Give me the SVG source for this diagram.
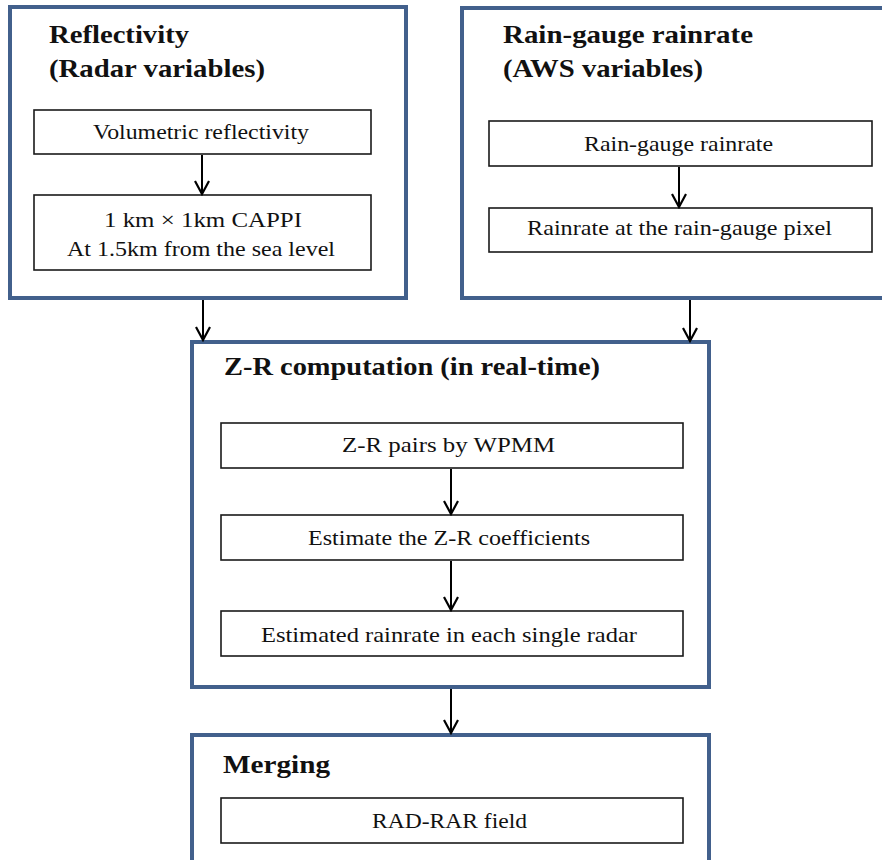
<svg xmlns="http://www.w3.org/2000/svg" width="882" height="860" viewBox="0 0 882 860">
<style>
.outer{fill:#fff;stroke:#42608c;stroke-width:4}
.inner{fill:#fff;stroke:#1a1a1a;stroke-width:1.6}
.title{font-family:"Liberation Serif","Times New Roman",serif;font-weight:bold;font-size:25px;fill:#111}
.lbl{font-family:"Liberation Serif","Times New Roman",serif;font-size:22px;fill:#111}
.conn{stroke:#000;stroke-width:2;fill:none}
</style>
<defs>
<marker id="ah" viewBox="0 0 16 16" refX="14" refY="8" markerWidth="16" markerHeight="16" markerUnits="userSpaceOnUse" orient="auto">
<path d="M1,1 L14,8 L1,15" fill="none" stroke="#000" stroke-width="2.2"/>
</marker>
</defs>
<rect width="882" height="860" fill="#fff"/>
<g id="reflectivity">
<rect class="outer" x="10" y="7" width="396" height="291"/>
<text class="title" x="49" y="43" textLength="140" lengthAdjust="spacingAndGlyphs">Reflectivity</text>
<text class="title" x="49" y="77" textLength="216" lengthAdjust="spacingAndGlyphs">(Radar variables)</text>
</g>
<g id="volumetric">
<rect class="inner" x="34" y="110" width="337" height="44"/>
<text class="lbl" x="93" y="139" textLength="216" lengthAdjust="spacingAndGlyphs">Volumetric  reflectivity</text>
</g>
<g id="cappi">
<rect class="inner" x="34" y="195" width="337" height="75"/>
<text class="lbl" x="104" y="227" textLength="198" lengthAdjust="spacingAndGlyphs">1 km × 1km  CAPPI</text>
<text class="lbl" x="67" y="256" textLength="268" lengthAdjust="spacingAndGlyphs">At 1.5km from  the  sea level</text>
</g>
<g id="raingauge">
<rect class="outer" x="462" y="8" width="437" height="290"/>
<text class="title" x="503" y="43" textLength="250" lengthAdjust="spacingAndGlyphs">Rain-gauge rainrate</text>
<text class="title" x="503" y="77" textLength="200" lengthAdjust="spacingAndGlyphs">(AWS variables)</text>
</g>
<g id="rg-rainrate">
<rect class="inner" x="489" y="121" width="383" height="45"/>
<text class="lbl" x="584" y="151" textLength="189" lengthAdjust="spacingAndGlyphs">Rain-gauge  rainrate</text>
</g>
<g id="rg-pixel">
<rect class="inner" x="489" y="208" width="383" height="44"/>
<text class="lbl" x="527" y="235" textLength="305" lengthAdjust="spacingAndGlyphs">Rainrate  at the  rain-gauge  pixel</text>
</g>
<g id="zr">
<rect class="outer" x="192" y="342" width="517" height="345"/>
<text class="title" x="224" y="375" textLength="376" lengthAdjust="spacingAndGlyphs">Z-R computation (in real-time)</text>
</g>
<g id="zr-pairs">
<rect class="inner" x="221" y="423" width="462" height="45"/>
<text class="lbl" x="342" y="452" textLength="213" lengthAdjust="spacingAndGlyphs">Z-R pairs  by WPMM</text>
</g>
<g id="zr-coef">
<rect class="inner" x="221" y="515" width="462" height="45"/>
<text class="lbl" x="308" y="545" textLength="282" lengthAdjust="spacingAndGlyphs">Estimate  the  Z-R coefficients</text>
</g>
<g id="zr-est">
<rect class="inner" x="221" y="611" width="462" height="45"/>
<text class="lbl" x="261" y="642" textLength="376" lengthAdjust="spacingAndGlyphs">Estimated  rainrate  in  each single  radar</text>
</g>
<g id="merging">
<rect class="outer" x="192" y="735" width="517" height="140"/>
<text class="title" x="223" y="773" textLength="107" lengthAdjust="spacingAndGlyphs">Merging</text>
</g>
<g id="radrar">
<rect class="inner" x="221" y="798" width="462" height="45"/>
<text class="lbl" x="372" y="828" textLength="155" lengthAdjust="spacingAndGlyphs">RAD-RAR  field</text>
</g>
<g id="connectors">
<line class="conn" x1="202" y1="155" x2="202" y2="194" marker-end="url(#ah)"/>
<line class="conn" x1="679" y1="167" x2="679" y2="207" marker-end="url(#ah)"/>
<line class="conn" x1="203" y1="300" x2="203" y2="340" marker-end="url(#ah)"/>
<line class="conn" x1="690" y1="300" x2="690" y2="341" marker-end="url(#ah)"/>
<line class="conn" x1="451" y1="469" x2="451" y2="514" marker-end="url(#ah)"/>
<line class="conn" x1="451" y1="561" x2="451" y2="610" marker-end="url(#ah)"/>
<line class="conn" x1="451" y1="689" x2="451" y2="733" marker-end="url(#ah)"/>
</g>
</svg>
